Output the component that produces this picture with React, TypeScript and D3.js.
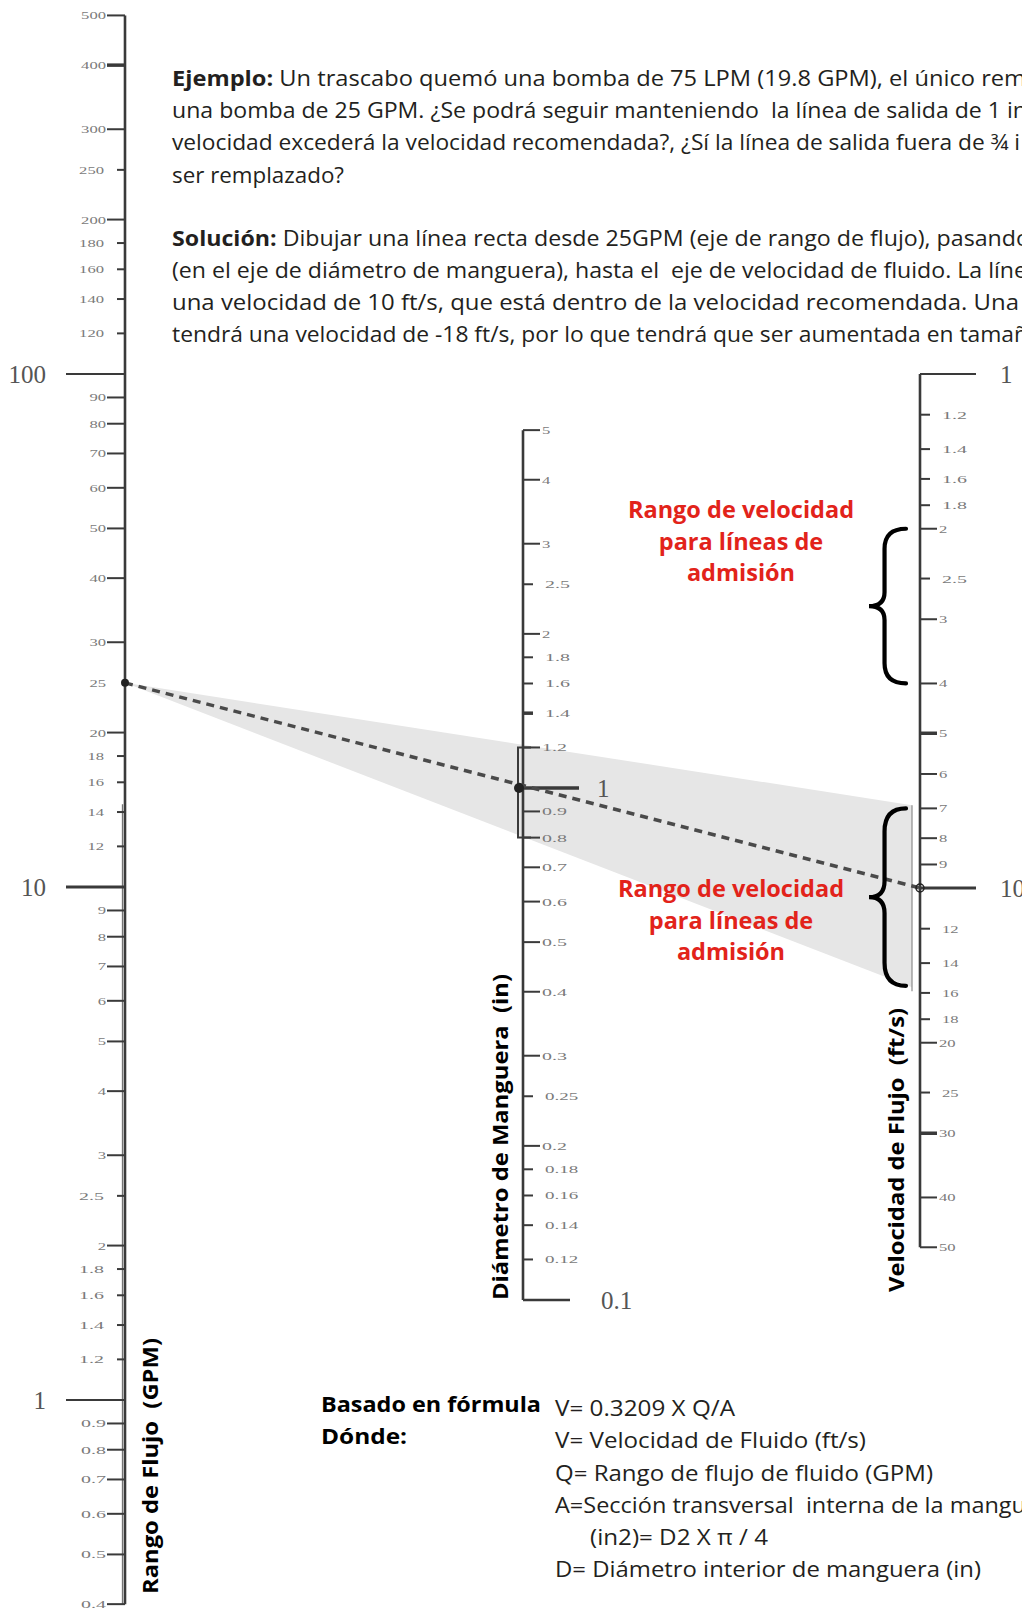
import React from "react";
import * as d3 from "d3";

// ---------- DATA ----------
const flowTicks = [500, 400, 300, 250, 200, 180, 160, 140, 120, 90, 80, 70, 60, 50, 40, 30, 20, 18, 16, 14, 12, 9, 8, 7, 6, 5, 4, 3, 2.5, 2, 1.8, 1.6, 1.4, 1.2, 0.9, 0.8, 0.7, 0.6, 0.5, 0.4];
const flowShort = [250, 180, 160, 140, 120, 18, 16, 14, 12, 2.5, 1.8, 1.6, 1.4, 1.2];
const flowBold = [400];
const flowMajor = [100, 10, 1];
const flowDomain = [0.4, 500];

const diamTicks = [5, 4, 3, 2.5, 2, 1.8, 1.6, 1.4, 1.2, 0.9, 0.8, 0.7, 0.6, 0.5, 0.4, 0.3, 0.25, 0.2, 0.18, 0.16, 0.14, 0.12];
const diamShort = [2.5, 1.8, 1.6, 1.4, 0.25, 0.18, 0.16, 0.14, 0.12];
const diamBold = [1.4];
const diamMajor = [1, 0.1];
const diamDomain = [0.1, 5];

const velTicks = [1.2, 1.4, 1.6, 1.8, 2, 2.5, 3, 4, 5, 6, 7, 8, 9, 12, 14, 16, 18, 20, 25, 30, 40, 50];
const velShort = [1.2, 1.4, 1.6, 1.8, 2.5, 12, 14, 16, 18, 25];
const velBold = [5, 30];
const velMajor = [1, 10];
const velDomain = [1, 50];

const exampleFlow = 25;
const exampleDiam = 1;
const exampleVel = 10;
const wedgeDiam = [0.8, 1.2];
const wedgeVel = [6.9, 15.6];
const braceRanges = [[2, 4], [7, 15.5]];

const redLines = ["Rango de velocidad", "para líneas de", "admisión"];

const exampleBold = ["Ejemplo:", "", "", ""];
const exampleText = [
  " Un trascabo quemó una bomba de 75 LPM (19.8 GPM), el único rem",
  "una bomba de 25 GPM. ¿Se podrá seguir manteniendo  la línea de salida de 1 in",
  "velocidad excederá la velocidad recomendada?, ¿Sí la línea de salida fuera de ¾ i",
  "ser remplazado?",
];
const solutionBold = ["Solución:", "", "", ""];
const solutionText = [
  " Dibujar una línea recta desde 25GPM (eje de rango de flujo), pasando",
  "(en el eje de diámetro de manguera), hasta el  eje de velocidad de fluido. La líne",
  "una velocidad de 10 ft/s, que está dentro de la velocidad recomendada. Una",
  "tendrá una velocidad de -18 ft/s, por lo que tendrá que ser aumentada en tamañ",
];
const formulaLeft = ["Basado en fórmula", "Dónde:"];
const formulaRight = [
  "V= 0.3209 X Q/A",
  "V= Velocidad de Fluido (ft/s)",
  "Q= Rango de flujo de fluido (GPM)",
  "A=Sección transversal  interna de la mangu",
  "(in2)= D2 X π / 4",
  "D= Diámetro interior de manguera (in)",
];
const axisTitles = ["Rango de Flujo  (GPM)", "Diámetro de Manguera  (in)", "Velocidad de Flujo  (ft/s)"];

// ---------- LAYOUT ----------
const W = 1022;
const H = 1608;
const AXQ = 125;
const AXD = 523;
const AXV = 920;
const exampleLayout = [
  { y: 86, len: 854 },
  { y: 118, len: 855 },
  { y: 150, len: 848 },
  { y: 183, len: 172 },
];
const solutionLayout = [
  { y: 246, len: 858 },
  { y: 278, len: 855 },
  { y: 310, len: 847 },
  { y: 342, len: 856 },
];
const formulaLeftLayout = [
  { y: 1412, len: 220 },
  { y: 1444, len: 86 },
];
const formulaRightLayout = [
  { x: 555, y: 1416, len: 180 },
  { x: 555, y: 1448, len: 311 },
  { x: 555, y: 1481, len: 378 },
  { x: 555, y: 1513, len: 471 },
  { x: 590, y: 1545, len: 178 },
  { x: 555, y: 1577, len: 426 },
];
const titleLayout = [
  { x: 149, cy: 1466, len: 256 },
  { x: 499, cy: 1137, len: 326 },
  { x: 895, cy: 1150, len: 284 },
];

const qScale = d3.scaleLog().domain([1, 100]).range([1400, 374]);
const dScale = d3.scaleLog().domain([0.1, 1]).range([1300, 788]);
const vScale = d3.scaleLog().domain([1, 10]).range([374, 888]);

const AXIS_COLOR = "#3a3a3a";
const TICK_LABEL = "#7a7a7a";
const MAJOR_LABEL = "#555";
const RED = "#e2231a";
const TEXT = "#231f20";
const SANS = "'Open Sans', 'Noto Sans', sans-serif";
const SERIF = "'Liberation Serif', 'DejaVu Serif', serif";
const PRE = { whiteSpace: "pre" as const };

function fmt(v: number) {
  return String(v);
}

function TickLabel(props: { x: number; y: number; v: number; anchor: "start" | "end" }) {
  const s = fmt(props.v);
  return (
    <text
      x={props.x}
      y={props.y}
      textAnchor={props.anchor}
      dominantBaseline="central"
      fontFamily={SERIF}
      fontSize={11}
      fill={TICK_LABEL}
      textLength={s.length * 8.3}
      lengthAdjust="spacingAndGlyphs"
    >
      {s}
    </text>
  );
}

function bracePath(xTip: number, y0: number, y1: number, w: number) {
  const xs = xTip + w * 0.42;
  const xe = xTip + w;
  const ym = (y0 + y1) / 2;
  const h = y1 - y0;
  return [
    `M${xe},${y0}`,
    `Q${xs},${y0} ${xs},${y0 + h * 0.13}`,
    `L${xs},${ym - h * 0.09}`,
    `Q${xs},${ym} ${xTip},${ym}`,
    `Q${xs},${ym} ${xs},${ym + h * 0.09}`,
    `L${xs},${y1 - h * 0.13}`,
    `Q${xs},${y1} ${xe},${y1}`,
  ].join(" ");
}

export default function App() {
  const qy = (v: number) => qScale(v);
  const dy = (v: number) => dScale(v);
  const vy = (v: number) => vScale(v);

  const wedge = [
    [AXQ, qy(exampleFlow)],
    [912, vy(wedgeVel[0])],
    [912, vy(wedgeVel[1])],
  ];
  const wedgePath = d3.line()(wedge as [number, number][]) + "Z";

  const p0: [number, number] = [AXQ, qy(exampleFlow)];
  const p1: [number, number] = [AXV, vy(exampleVel)];

  return (
    <svg
      width={W}
      height={H}
      viewBox={`0 0 ${W} ${H}`}
      style={{ position: "absolute", left: 0, top: 0, background: "#fff", display: "block" }}
    >
      <rect x={0} y={0} width={W} height={H} fill="#fff" />

      {/* gray wedge */}
      <path d={wedgePath} fill="#e6e6e6" />
      <line x1={912} x2={912} y1={vy(wedgeVel[0])} y2={vy(wedgeVel[1]) + 4} stroke="#8a8a8a" strokeWidth={1.2} />

      {/* ===== Left axis: flow ===== */}
      <line x1={AXQ} x2={AXQ} y1={qy(flowDomain[1])} y2={qy(flowDomain[0])} stroke={AXIS_COLOR} strokeWidth={2.6} />
      <line x1={AXQ - 2.5} x2={AXQ - 2.5} y1={qy(14.5)} y2={qy(flowDomain[0])} stroke={AXIS_COLOR} strokeWidth={1.3} opacity={0.7} />
      {flowTicks.map((v) => {
        const y = qy(v);
        const short = flowShort.includes(v);
        const bold = flowBold.includes(v);
        return (
          <g key={"q" + v}>
            <line x1={short ? 117 : 107} x2={AXQ} y1={y} y2={y} stroke={AXIS_COLOR} strokeWidth={bold ? 3.5 : 2} />
            <TickLabel x={short ? 104 : 106} y={y} v={v} anchor="end" />
          </g>
        );
      })}
      <TickLabel x={106} y={qy(exampleFlow)} v={exampleFlow} anchor="end" />
      {flowMajor.map((v) => (
        <g key={"qm" + v}>
          <line x1={66} x2={AXQ} y1={qy(v)} y2={qy(v)} stroke={AXIS_COLOR} strokeWidth={v === 10 ? 3 : 2} />
          <text x={46} y={qy(v)} textAnchor="end" dominantBaseline="central" fontFamily={SERIF} fontSize={25} fill={MAJOR_LABEL}>
            {fmt(v)}
          </text>
        </g>
      ))}

      {/* ===== Middle axis: diameter ===== */}
      <line x1={AXD} x2={AXD} y1={dy(diamDomain[1])} y2={dy(diamDomain[0])} stroke={AXIS_COLOR} strokeWidth={2.6} />
      <path
        d={`M${AXD + 8},${dy(wedgeDiam[1])} H${AXD - 5} V${dy(wedgeDiam[0])} H${AXD + 8}`}
        fill="none"
        stroke={AXIS_COLOR}
        strokeWidth={2}
      />
      {diamTicks.map((v) => {
        const y = dy(v);
        const short = diamShort.includes(v);
        const bold = diamBold.includes(v);
        return (
          <g key={"d" + v}>
            <line x1={AXD} x2={short ? AXD + 10 : AXD + 17} y1={y} y2={y} stroke={AXIS_COLOR} strokeWidth={bold ? 3.5 : 2} />
            <TickLabel x={short ? AXD + 22 : AXD + 19} y={y} v={v} anchor="start" />
          </g>
        );
      })}
      {diamMajor.map((v) => (
        <g key={"dm" + v}>
          <line x1={AXD} x2={v === 1 ? 579 : 570} y1={dy(v)} y2={dy(v)} stroke={AXIS_COLOR} strokeWidth={v === 1 ? 3.5 : 2.4} />
          <text x={v === 1 ? 597 : 601} y={dy(v)} textAnchor="start" dominantBaseline="central" fontFamily={SERIF} fontSize={25} fill={MAJOR_LABEL}>
            {fmt(v)}
          </text>
        </g>
      ))}

      {/* ===== Right axis: velocity ===== */}
      <line x1={AXV} x2={AXV} y1={vy(velDomain[0])} y2={vy(velDomain[1])} stroke={AXIS_COLOR} strokeWidth={2.6} />
      {velTicks.map((v) => {
        const y = vy(v);
        const short = velShort.includes(v);
        const bold = velBold.includes(v);
        return (
          <g key={"v" + v}>
            <line x1={AXV} x2={short ? AXV + 10 : AXV + 17} y1={y} y2={y} stroke={AXIS_COLOR} strokeWidth={bold ? 3.5 : 2} />
            <TickLabel x={short ? AXV + 22 : AXV + 19} y={y} v={v} anchor="start" />
          </g>
        );
      })}
      {velMajor.map((v) => (
        <g key={"vm" + v}>
          <line x1={AXV} x2={976} y1={vy(v)} y2={vy(v)} stroke={AXIS_COLOR} strokeWidth={v === 10 ? 3.2 : 2} />
          <text x={1000} y={vy(v)} textAnchor="start" dominantBaseline="central" fontFamily={SERIF} fontSize={25} fill={MAJOR_LABEL}>
            {fmt(v)}
          </text>
        </g>
      ))}

      {/* ===== Example line ===== */}
      <line x1={p0[0]} y1={p0[1]} x2={p1[0]} y2={p1[1]} stroke="#4a4a4a" strokeWidth={3.5} strokeDasharray="8 6" />
      <circle cx={p0[0]} cy={p0[1]} r={4} fill="#222" />
      <circle cx={AXD - 4} cy={dy(exampleDiam)} r={5} fill="#222" />
      <circle cx={p1[0]} cy={p1[1]} r={4} fill="none" stroke="#222" strokeWidth={1.5} />

      {/* ===== Braces ===== */}
      {braceRanges.map((r, i) => (
        <path key={"b" + i} d={bracePath(869, vy(r[0]), vy(r[1]), 37)} fill="none" stroke="#000" strokeWidth={4.2} strokeLinecap="round" />
      ))}

      {/* ===== Red annotations ===== */}
      {[{ cx: 741, y: 518 }, { cx: 731, y: 897 }].map((b, i) => (
        <text key={"r" + i} textAnchor="middle" fontFamily={SANS} fontWeight={700} fontSize={23.5} fill={RED}>
          {redLines.map((l, j) => (
            <tspan key={j} x={b.cx} y={b.y + j * 31.5}>
              {l}
            </tspan>
          ))}
        </text>
      ))}

      {/* ===== Axis titles ===== */}
      {axisTitles.map((t, i) => {
        const L = titleLayout[i];
        return (
          <text
            key={"t" + i}
            transform={`translate(${L.x},${L.cy}) rotate(-90)`}
            textAnchor="middle"
            dominantBaseline="central"
            fontFamily={SANS}
            fontWeight={700}
            fontSize={22}
            fill="#000"
            textLength={L.len}
            lengthAdjust="spacingAndGlyphs"
            style={PRE}
          >
            {t}
          </text>
        );
      })}

      {/* ===== Top paragraphs ===== */}
      {exampleText.map((t, i) => (
        <text
          key={"e" + i}
          x={172}
          y={exampleLayout[i].y}
          fontFamily={SANS}
          fontSize={21.5}
          fill={TEXT}
          textLength={exampleLayout[i].len}
          lengthAdjust="spacingAndGlyphs"
          style={PRE}
        >
          {exampleBold[i] ? <tspan fontWeight={700}>{exampleBold[i]}</tspan> : null}
          {t}
        </text>
      ))}
      {solutionText.map((t, i) => (
        <text
          key={"s" + i}
          x={172}
          y={solutionLayout[i].y}
          fontFamily={SANS}
          fontSize={21.5}
          fill={TEXT}
          textLength={solutionLayout[i].len}
          lengthAdjust="spacingAndGlyphs"
          style={PRE}
        >
          {solutionBold[i] ? <tspan fontWeight={700}>{solutionBold[i]}</tspan> : null}
          {t}
        </text>
      ))}

      {/* ===== Formula ===== */}
      {formulaLeft.map((t, i) => (
        <text
          key={"fl" + i}
          x={321}
          y={formulaLeftLayout[i].y}
          fontFamily={SANS}
          fontWeight={700}
          fontSize={21.5}
          fill="#000"
          textLength={formulaLeftLayout[i].len}
          lengthAdjust="spacingAndGlyphs"
        >
          {t}
        </text>
      ))}
      {formulaRight.map((t, i) => (
        <text
          key={"fr" + i}
          x={formulaRightLayout[i].x}
          y={formulaRightLayout[i].y}
          fontFamily={SANS}
          fontSize={21.5}
          fill={TEXT}
          textLength={formulaRightLayout[i].len}
          lengthAdjust="spacingAndGlyphs"
          style={PRE}
        >
          {t}
        </text>
      ))}
    </svg>
  );
}
